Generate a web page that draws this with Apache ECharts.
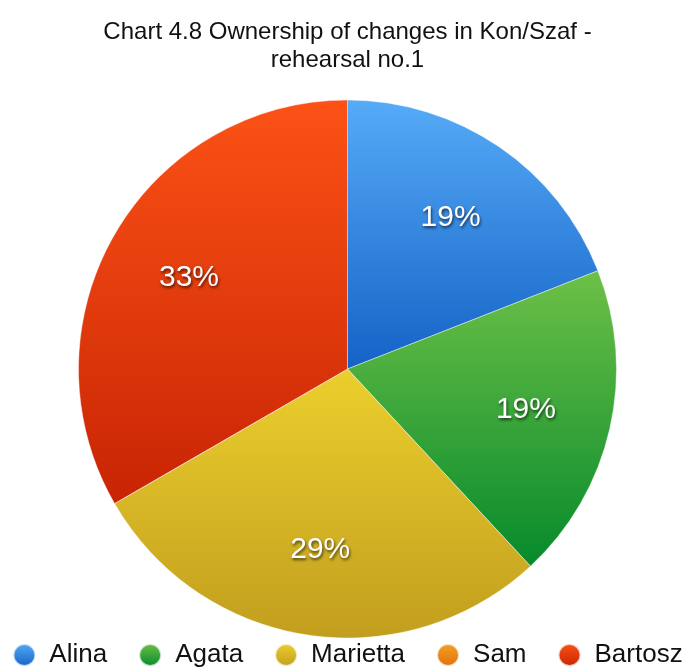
<!DOCTYPE html>
<html>
<head>
<meta charset="utf-8">
<script src="https://cdn.jsdelivr.net/npm/echarts@6/dist/echarts.min.js"></script>
<style>
  html, body { margin: 0; padding: 0; background: #fff; }
  #chart { width: 695px; height: 667px; }
</style>
</head>
<body>
<div id="chart"></div>
<script>
// Number of changes owned by each person
const names = ['Alina', 'Agata', 'Marietta', 'Sam', 'Bartosz'];
const changes = [4, 4, 6, 0, 7];
// Slice shading: lighter at the top, darker at the bottom
const topColors = ['#56abf7', '#6dc047', '#ebcf2d', '#f2a224', '#fc5216'];
const bottomColors = ['#1462c6', '#068a2c', '#c29e1e', '#e0700e', '#c82404'];

const FONT = '"Liberation Sans", Helvetica, Arial, sans-serif';
const total = changes.reduce((a, b) => a + b, 0);

const grad = i => new echarts.graphic.LinearGradient(0, 0, 0, 1, [
  { offset: 0, color: topColors[i] },
  { offset: 1, color: bottomColors[i] }
]);

const sliceData = names.map((n, i) => ({
  name: n,
  value: changes[i],
  itemStyle: { color: grad(i) }
}));

const labelData = names.map((n, i) => ({ name: n, value: changes[i] }));

const chart = echarts.init(document.getElementById('chart'), null, { renderer: 'canvas' });
chart.setOption({
  animation: false,
  backgroundColor: '#ffffff',
  title: {
    text: 'Chart 4.8 Ownership of changes in Kon/Szaf -\nrehearsal no.1',
    left: 'center',
    top: 13,
    textStyle: {
      fontFamily: FONT,
      fontSize: 24,
      fontWeight: 'normal',
      color: '#111',
      lineHeight: 28
    }
  },
  legend: {
    data: names,
    left: 'center',
    top: 637,
    itemWidth: 22,
    itemHeight: 22,
    itemGap: 31,
    icon: 'circle',
    formatter: '{n|{name}}',
    textStyle: {
      fontFamily: FONT,
      fontSize: 26,
      color: '#111',
      rich: {
        n: { fontFamily: FONT, fontSize: 26, lineHeight: 20, color: '#111', padding: [0, 0, 0, 9] }
      }
    }
  },
  series: [
    {
      type: 'pie',
      center: [347.5, 369],
      radius: [0, 269],
      startAngle: 90,
      clockwise: true,
      avoidLabelOverlap: false,
      label: { show: false },
      labelLine: { show: false },
      itemStyle: { borderColor: 'rgba(255,255,255,0.7)', borderWidth: 0.6 },
      emphasis: { disabled: true },
      data: sliceData
    },
    {
      // label ring: sits over the pie and only carries the percentages
      type: 'pie',
      silent: true,
      center: [347.5, 369],
      radius: [91, 269],
      startAngle: 90,
      clockwise: true,
      avoidLabelOverlap: false,
      itemStyle: { color: 'rgba(0,0,0,0)', borderWidth: 0 },
      labelLine: { show: false },
      label: {
        show: true,
        position: 'inside',
        formatter: p => p.value > 0 ? Math.round(p.value / total * 100) + '%' : '',
        fontFamily: FONT,
        fontSize: 30,
        color: '#ffffff',
        textShadowColor: 'rgba(0,0,0,0.65)',
        textShadowBlur: 3,
        textShadowOffsetX: 1,
        textShadowOffsetY: 2
      },
      emphasis: { disabled: true },
      data: labelData
    }
  ]
});
</script>
</body>
</html>
